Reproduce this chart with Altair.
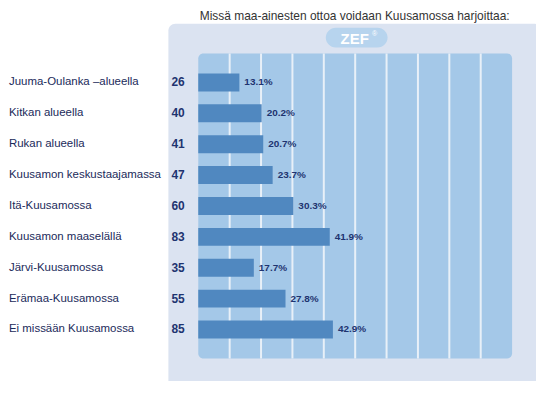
import altair as alt
import pandas as pd

categories = ["Juuma-Oulanka \u2013alueella", "Kitkan alueella", "Rukan alueella",
              "Kuusamon keskustaajamassa", "It\u00e4-Kuusamossa", "Kuusamon maasel\u00e4ll\u00e4",
              "J\u00e4rvi-Kuusamossa", "Er\u00e4maa-Kuusamossa", "Ei miss\u00e4\u00e4n Kuusamossa"]
counts = [26, 40, 41, 47, 60, 83, 35, 55, 85]
percents = [13.1, 20.2, 20.7, 23.7, 30.3, 41.9, 17.7, 27.8, 42.9]
grid_ticks = [10, 20, 30, 40, 50, 60, 70, 80, 90]
title_text = "Miss\u00e4 maa-ainesten ottoa voidaan Kuusamossa harjoittaa:"

df = pd.DataFrame({
    "cat": categories,
    "n": counts,
    "pct": percents,
    "pct_label": [f"{p:.1f}%" for p in percents],
})

W, H = 315, 306
xscale = alt.Scale(domain=[0, 100], nice=False, zero=True)
yscale = alt.Scale(domain=categories, paddingInner=0.42, paddingOuter=0.645)
one = alt.Data(values=[{"a": 1}])

outer = alt.Chart(one).mark_rect(color="#dbe3f1", cornerRadius=7).encode(
    x=alt.value(-30), x2=alt.value(344), y=alt.value(-30), y2=alt.value(335))
inner = alt.Chart(one).mark_rect(color="#a4c8e8", cornerRadius=5).encode(
    x=alt.value(0), x2=alt.value(W), y=alt.value(0), y2=alt.value(H))
badge = alt.Chart(one).mark_rect(color="#b7d4ee", cornerRadius=10).encode(
    x=alt.value(128), x2=alt.value(190), y=alt.value(-26), y2=alt.value(-6))
badge_text = alt.Chart(one).mark_text(text="ZEF", color="white", fontWeight="bold",
                                      fontSize=15, font="Liberation Sans").encode(
    x=alt.value(157), y=alt.value(-15))
badge_r = alt.Chart(one).mark_text(text="\u00ae", color="white", fontSize=7,
                                   font="Liberation Sans").encode(
    x=alt.value(177), y=alt.value(-20))
title = alt.Chart(one).mark_text(text=title_text, color="#333333", fontSize=12,
                                 font="Liberation Sans").encode(
    x=alt.value(157), y=alt.value(-38))

grid = alt.Chart(pd.DataFrame({"t": grid_ticks})).mark_rule(color="#e8f0f8", strokeWidth=2).encode(
    x=alt.X("t:Q", scale=xscale, axis=None), y=alt.value(0), y2=alt.value(H))

base = alt.Chart(df)
bars = base.mark_bar(color="#5088c0", size=18).encode(
    x=alt.X("pct:Q", scale=xscale, axis=None),
    y=alt.Y("cat:N", scale=yscale, axis=None, sort=categories))
pct_text = base.mark_text(align="left", dx=5, fontWeight="bold", fontSize=10,
                          color="#1e3470", font="Liberation Sans").encode(
    x=alt.X("pct:Q", scale=xscale, axis=None),
    y=alt.Y("cat:N", scale=yscale, axis=None, sort=categories),
    text="pct_label:N")
cat_text = base.mark_text(align="left", fontSize=11.5, color="#1a2a5a",
                          font="Liberation Sans").encode(
    x=alt.value(-190),
    y=alt.Y("cat:N", scale=yscale, axis=None, sort=categories),
    text="cat:N")
n_text = base.mark_text(align="left", fontSize=12, fontWeight="bold", color="#1e3470",
                        font="Liberation Sans").encode(
    x=alt.value(-27),
    y=alt.Y("cat:N", scale=yscale, axis=None, sort=categories),
    text="n:N")

chart = alt.layer(outer, inner, badge, badge_text, badge_r, title, grid, bars,
                  pct_text, cat_text, n_text).properties(
    width=W, height=H,
    autosize=alt.AutoSizeParams(type="none"),
    padding={"left": 191, "top": 45, "right": 24, "bottom": 22},
).configure_view(stroke=None).configure(background="white")

chart.save("out.html", embed_options={"renderer": "svg", "actions": False})
